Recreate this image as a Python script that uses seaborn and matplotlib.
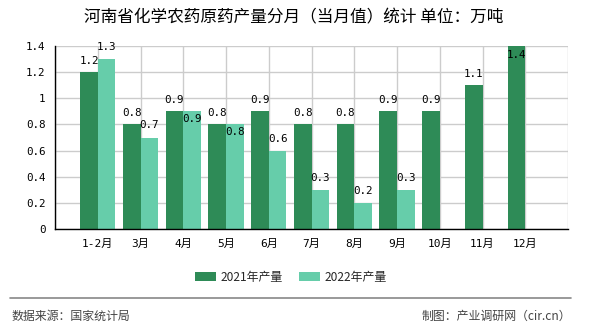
import matplotlib
matplotlib.use("Agg")
import matplotlib.pyplot as plt
import seaborn as sns
import pandas as pd
from matplotlib.patches import Patch
from matplotlib.lines import Line2D

months = ["1-2月", "3月", "4月", "5月", "6月", "7月", "8月", "9月", "10月", "11月", "12月"]
series_names = ["2021年产量", "2022年产量"]
values_2021 = [1.2, 0.8, 0.9, 0.8, 0.9, 0.8, 0.8, 0.9, 0.9, 1.1, 1.4]
values_2022 = [1.3, 0.7, 0.9, 0.8, 0.6, 0.3, 0.2, 0.3]
colors = ["#2E8B57", "#66CDAA"]
title = "河南省化学农药原药产量分月（当月值）统计 单位：万吨"
source_text = "数据来源：国家统计局"
credit_text = "制图：产业调研网（cir.cn）"

rows = []
for m, v in zip(months, values_2021):
    rows.append({"month": m, "series": series_names[0], "value": v})
for m, v in zip(months, values_2022):
    rows.append({"month": m, "series": series_names[1], "value": v})
df = pd.DataFrame(rows)

sns.set_style("white")
mono = ["DejaVu Sans Mono", "Noto Sans CJK SC"]
cjk = ["Noto Sans CJK SC", "DejaVu Sans"]
plt.rcParams["font.family"] = cjk

fig = plt.figure(figsize=(5.9, 3.3), dpi=100)
ax = fig.add_axes([55/590, 1-229/330, (568-55)/590, (229-46)/330])

sns.barplot(data=df, x="month", y="value", hue="series", order=months,
            hue_order=series_names, palette=colors, saturation=1,
            width=0.82, errorbar=None, legend=False, ax=ax, zorder=2)

for p in ax.patches:
    p.set_edgecolor("none")

ax.set_ylim(0, 1.4)
ax.set_xlim(-1, len(months))
ax.set_axisbelow(True)

xt = list(range(-1, len(months) + 1))
ax.set_xticks(xt)
ax.set_xticklabels([""] + months + [""], fontfamily=mono, fontsize=8)
yt = [0, 0.2, 0.4, 0.6, 0.8, 1.0, 1.2, 1.4]
ax.set_yticks(yt)
ax.set_yticklabels([("%g" % t) for t in yt], fontfamily=mono, fontsize=7.8)
ax.tick_params(axis="both", length=4, width=1, color="#000", pad=3, labelcolor="#000", direction="out")
ax.grid(True, color="#cccccc", linewidth=1)
for s in ["top", "right"]:
    ax.spines[s].set_visible(False)
for s in ["left", "bottom"]:
    ax.spines[s].set_color("#000")
    ax.spines[s].set_linewidth(1)
ax.set_xlabel("")
ax.set_ylabel("")

# value labels from bar patches
dark_bars = list(ax.containers[0])
light_bars = list(ax.containers[1])
dark_by_edge = {}
for b in dark_bars:
    h = b.get_height()
    cx = b.get_x() + b.get_width() / 2
    dark_by_edge[b.get_x() + b.get_width()] = h
    off = 11 if h < 1.35 else -9
    ax.annotate("%g" % h, (cx, h), xytext=(0, off), textcoords="offset pixels",
                ha="center", va="center", fontsize=7.8, fontfamily=mono, color="#000", zorder=5)
for b in light_bars:
    h = b.get_height()
    if not h == h:
        continue
    cx = b.get_x() + b.get_width() / 2
    dv = None
    for k, v in dark_by_edge.items():
        if abs(k - b.get_x()) < 0.05:
            dv = v
    off = -8 if (dv is not None and abs(dv - h) < 1e-9) else 12
    ax.annotate("%g" % h, (cx, h), xytext=(0, off), textcoords="offset pixels",
                ha="center", va="center", fontsize=7.8, fontfamily=mono, color="#000", zorder=5)

fig.text(294/590, 1-18/330, title, ha="center", va="center", fontsize=12, color="#000")

handles = [Patch(facecolor=c, edgecolor="none") for c in colors]
fig.legend(handles, series_names, loc="center", bbox_to_anchor=(291/590, 1-277/330),
           ncol=2, frameon=False, fontsize=8.6, handlelength=1.75, handleheight=0.75,
           handletextpad=0.45, columnspacing=1.3, borderpad=0)

fig.add_artist(Line2D([10/590, 571/590], [1-298/330, 1-298/330], color="#888888", linewidth=1.2))
fig.text(12/590, 1-316/330, source_text, ha="left", va="center", fontsize=8.6, color="#444444")
fig.text(571/590, 1-316/330, credit_text, ha="right", va="center", fontsize=8.6, color="#444444")

fig.savefig("out.png", dpi=100)
